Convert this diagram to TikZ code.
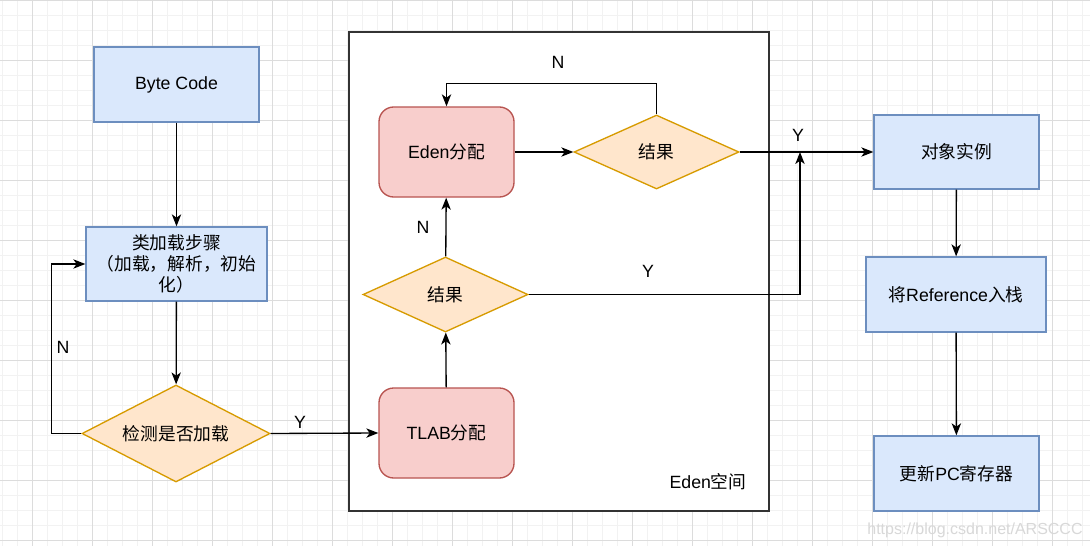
\documentclass[tikz,border=0pt]{standalone}
\usepackage{fontspec}
\setmainfont{Liberation Sans}
\newfontfamily\cjk{Noto Sans CJK SC}
\usetikzlibrary{arrows.meta,shapes.geometric}
\definecolor{bfill}{HTML}{DAE8FC}
\definecolor{bline}{HTML}{6C8EBF}
\definecolor{rfill}{HTML}{F8CECC}
\definecolor{rline}{HTML}{B85450}
\definecolor{ofill}{HTML}{FFE6CC}
\definecolor{oline}{HTML}{D79B00}
\definecolor{cgray}{HTML}{333333}
\definecolor{minorg}{HTML}{F2F2F2}
\definecolor{majorg}{HTML}{DCDCDC}
\definecolor{wmark}{HTML}{D8D8D8}
\begin{document}
\begin{tikzpicture}[x=0.75pt,y=-0.75pt,
  every node/.style={font=\fontsize{13.3}{15.75}\selectfont, text=black},
  bluebox/.style={draw=bline, fill=bfill, line width=1pt, inner sep=0pt, align=center},
  redbox/.style={draw=rline, fill=rfill, line width=1pt, rounded corners=11pt, inner sep=0pt, align=center},
  decision/.style={diamond, aspect=2, draw=oline, fill=ofill, line width=1pt, inner sep=0pt},
  arr/.style={line width=1pt, -{Stealth[length=9pt,width=7pt,inset=2.5pt]}},
  lbl/.style={inner sep=0pt}
]
\useasboundingbox (0,0) rectangle (1090,546);
\fill[white] (0,0) rectangle (1090,546);
% grid
\foreach \x in {2,17,...,1090} \draw[minorg, line width=0.75pt] (\x,0) -- (\x,546);
\foreach \y in {15,30,...,546} \draw[minorg, line width=0.75pt] (0,\y) -- (1090,\y);
\foreach \x in {32,92,...,1090} \draw[majorg, line width=0.75pt] (\x,0) -- (\x,546);
\foreach \y in {0,60,...,546} \draw[majorg, line width=0.75pt] (0,\y) -- (1090,\y);

% container
\node[draw=cgray, fill=white, line width=1.5pt, inner sep=0pt,
      minimum width=420*0.75pt, minimum height=479*0.75pt] (eden) at (559,271.5) {};
\node[lbl] (edenlbl) at (708,482) {Eden{\cjk 空间}};

% nodes
\node[bluebox, minimum width=165*0.75pt, minimum height=75*0.75pt] (bc) at (176.5,84.5) {Byte Code};
\node[bluebox, minimum width=181*0.75pt, minimum height=74*0.75pt] (cls) at (176.5,264)
  {{\cjk 类加载步骤}\\{\cjk （加载，解析，初始}\\{\cjk 化）}};
\node[decision, minimum width=188*0.75pt, minimum height=97*0.75pt] (chk) at (176,433.5) {\cjk 检测是否加载};

\node[redbox, minimum width=135*0.75pt, minimum height=90*0.75pt] (tlab) at (446.5,433) {TLAB{\cjk 分配}};
\node[decision, minimum width=165*0.75pt, minimum height=75*0.75pt] (r1) at (445.5,294.5) {\cjk 结果};
\node[redbox, minimum width=135*0.75pt, minimum height=90*0.75pt] (edena) at (446.5,152) {Eden{\cjk 分配}};
\node[decision, minimum width=165*0.75pt, minimum height=74*0.75pt] (r2) at (656.5,152) {\cjk 结果};

\node[bluebox, minimum width=165*0.75pt, minimum height=74*0.75pt] (obj) at (956.5,152) {\cjk 对象实例};
\node[bluebox, minimum width=180*0.75pt, minimum height=75*0.75pt] (ref) at (956,294.5) {{\cjk 将}Reference{\cjk 入栈}};
\node[bluebox, minimum width=165*0.75pt, minimum height=75*0.75pt] (pc) at (956.5,473.5) {{\cjk 更新}PC{\cjk 寄存器}};

\coordinate (merge) at (800,152);

% connectors
\draw[arr] (bc) -- (cls);
\draw[arr] (cls) -- (chk);
\draw[arr] (chk.west) -- ++(-30,0) |- (cls.west);
\draw[arr] (chk.east) -- (tlab.west);
\draw[arr] (tlab) -- (r1);
\draw[arr] (r1) -- (edena);
\draw[arr] (edena) -- (r2);
\draw[arr] (r2.north) -- ++(0,-31) -| (edena.north);
\draw[arr] (r2.east) -- (obj.west);
\draw[arr] (r1.east) -| (merge);
\draw[arr] (obj) -- (ref);
\draw[arr] (ref) -- (pc);

% labels
\node[lbl] (n1) at (63,347) {N};
\node[lbl] (y1) at (300,422) {Y};
\node[lbl] (n2) at (423,227) {N};
\node[lbl] (n3) at (558,62) {N};
\node[lbl] (y2) at (798,135) {Y};
\node[lbl] (y3) at (648,271) {Y};

% watermark
\node[lbl, text=wmark, font=\fontsize{12}{14}\selectfont] (wm) at (975,530) {https://blog.csdn.net/ARSCCC};
\end{tikzpicture}
\end{document}
